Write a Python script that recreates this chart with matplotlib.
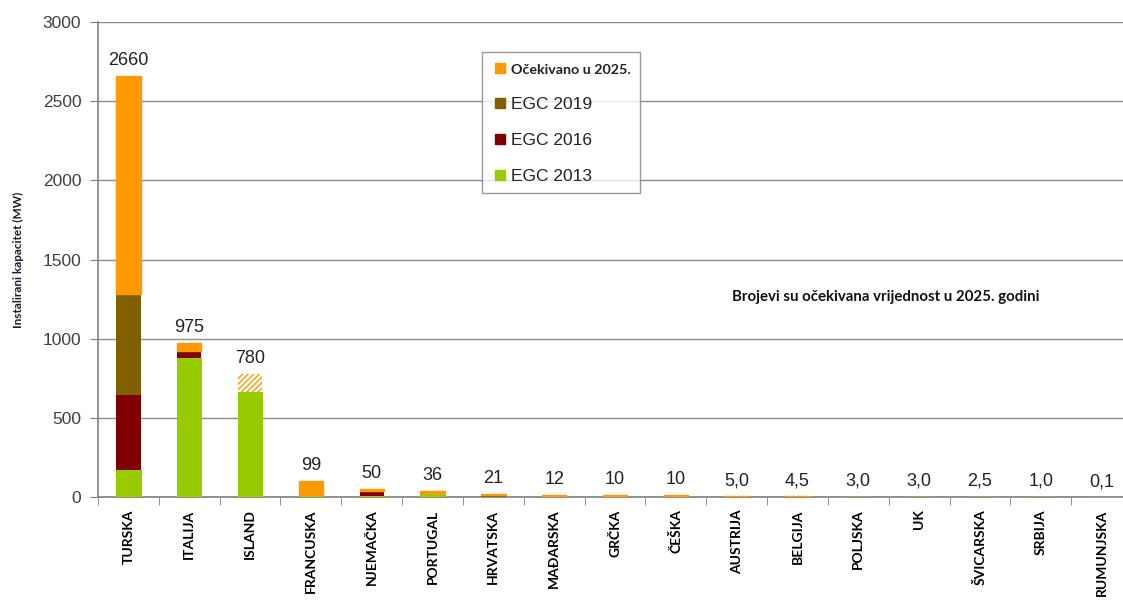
import matplotlib
matplotlib.use("Agg")
import matplotlib.pyplot as plt
from matplotlib.lines import Line2D
import numpy as np

# --- data (MW) ---
countries = ["TURSKA", "ITALIJA", "ISLAND", "FRANCUSKA", "NJEMAČKA", "PORTUGAL",
             "HRVATSKA", "MAĐARSKA", "GRČKA", "ČEŠKA", "AUSTRIJA", "BELGIJA",
             "POLJSKA", "UK", "ŠVICARSKA", "SRBIJA", "RUMUNJSKA"]
egc2013 = [170, 878, 663, 12, 8, 25, 0, 0, 0, 0, 0, 0, 0, 0, 0, 0, 0.1]
egc2016 = [475, 44, 0, 0, 30, 0, 0, 0, 0, 0, 0, 0, 0, 0, 0, 0, 0]
egc2019 = [635, 0, 0, 0, 0, 0, 15, 0, 0, 0, 0, 0, 0, 0, 0, 0, 0]
ocekivano = [1380, 53, 117, 87, 12, 11, 6, 12, 10, 10, 5.0, 4.5, 3.0, 3.0, 2.5, 1.0, 0]
totals = [2660, 975, 780, 99, 50, 36, 21, 12, 10, 10, 5.0, 4.5, 3.0, 3.0, 2.5, 1.0, 0.1]
value_labels = ["2660", "975", "780", "99", "50", "36", "21", "12", "10", "10",
                "5,0", "4,5", "3,0", "3,0", "2,5", "1,0", "0,1"]
hatched = ["ISLAND"]

C_GREEN = "#99cc00"
C_RED = "#800000"
C_BROWN = "#806000"
C_ORANGE = "#ff9900"

fig = plt.figure(figsize=(11.23, 6.0), dpi=100)
ax = fig.add_axes([98 / 1123, 1 - 497 / 600, 1034 / 1123, 475 / 600])

x = np.arange(len(countries))
w = 0.4
b = np.zeros(len(countries))
# thin edge keeps the very small bars visible as a line, like the original
ax.bar(x, egc2013, w, bottom=b, color=C_GREEN, edgecolor=C_GREEN, linewidth=0.8, zorder=3)
b += egc2013
ax.bar(x, egc2016, w, bottom=b, color=C_RED, zorder=3)
b += egc2016
ax.bar(x, egc2019, w, bottom=b, color=C_BROWN, zorder=3)
b += egc2019
for i, c in enumerate(countries):
    if c in hatched:
        ax.bar(x[i], ocekivano[i], w, bottom=b[i], color="white", edgecolor=C_ORANGE,
               hatch="//////", linewidth=0, zorder=3)
    elif ocekivano[i] > 0:
        ax.bar(x[i], ocekivano[i], w, bottom=b[i], color=C_ORANGE,
               edgecolor=C_ORANGE, linewidth=1.0, zorder=3)

for i, t in enumerate(totals):
    ax.annotate(value_labels[i], (x[i], t), xytext=(0, 5), textcoords="offset points",
                ha="center", va="bottom", fontsize=13, color="#222222",
                family="Liberation Sans")

ax.set_ylim(0, 3000)
ax.set_xlim(-0.5, len(countries) - 0.5)
ax.set_yticks(range(0, 3001, 500))
ax.yaxis.grid(True, color="#8c8c8c", linewidth=1.0, zorder=0)
for s in ["top", "right"]:
    ax.spines[s].set_visible(False)
for s in ["left", "bottom"]:
    ax.spines[s].set_color("#808080")
    ax.spines[s].set_linewidth(1.2)
ax.tick_params(axis="y", length=6, color="#808080", labelsize=12.5,
               labelcolor="#404040", pad=6)
for lab in ax.get_yticklabels():
    lab.set_family("Liberation Sans")

ax.set_xticks(x)
ax.set_xticklabels(countries, rotation=90, fontsize=10, fontweight="bold",
                   family="Lato", va="top")
ax.set_xticks(np.arange(len(countries) + 1) - 0.5, minor=True)
ax.tick_params(axis="x", which="major", length=0, pad=9)
ax.tick_params(axis="x", which="minor", length=6, color="#808080")

ax.set_ylabel("Instalirani kapacitet (MW)", fontsize=8.5, fontweight="bold",
              family="Lato", color="#1a1a2a")
ax.yaxis.set_label_coords(-0.0716, 0.50)

ax.text(0.762, 1263 / 3000, "Brojevi su očekivana vrijednost u 2025. godini",
        transform=ax.transAxes, ha="center", va="center", fontsize=10.8,
        fontweight="bold", family="Lato", color="#111111")

handles = [Line2D([], [], marker="s", linestyle="none", markersize=7, color=c)
           for c in [C_ORANGE, C_BROWN, C_RED, C_GREEN]]
leg = ax.legend(handles, ["Očekivano u 2025.", "EGC 2019", "EGC 2016", "EGC 2013"],
                loc="upper left", bbox_to_anchor=(0.371, 0.937), frameon=True,
                fancybox=False, edgecolor="#808080", fontsize=12.5,
                labelspacing=1.2, handletextpad=0.15, handlelength=1.0,
                borderpad=0.55, borderaxespad=0)
leg.get_frame().set_linewidth(1.0)
leg.set_zorder(5)
for i, t in enumerate(leg.get_texts()):
    if i == 0:
        t.set_family("Lato")
        t.set_fontweight("bold")
        t.set_fontsize(10.3)
    else:
        t.set_family("Liberation Sans")
    t.set_color("#222222")

fig.savefig("out.png", dpi=100)
